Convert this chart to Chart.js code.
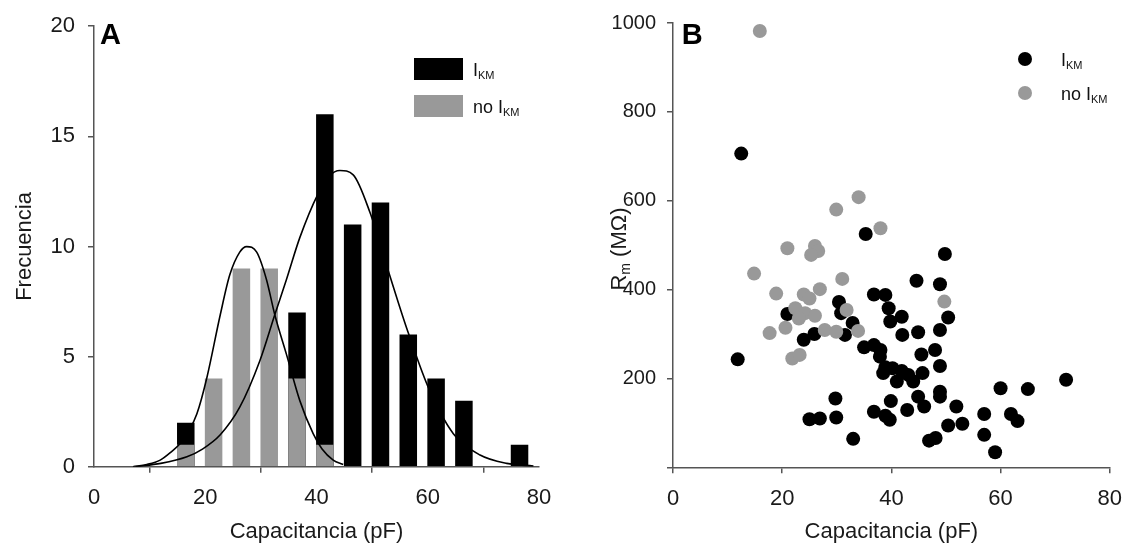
<!DOCTYPE html>
<html lang="es">
<head>
<meta charset="UTF-8">
<title>Capacitancia, frecuencia y Rm</title>
<script src="https://cdn.jsdelivr.net/npm/chart.js"></script>
<style>
  html, body { margin: 0; padding: 0; background: #fff; }
  .wrap { position: relative; width: 1134px; height: 548px; }
  canvas { position: absolute; top: 0; }
  #histChart { left: 0; }
  #scatterChart { left: 567px; }
</style>
</head>
<body>
<div class="wrap">
  <canvas id="histChart" width="567" height="548"></canvas>
  <canvas id="scatterChart" width="567" height="548"></canvas>
</div>
<script>
// ---- Panel A: histogram of capacitance (bin centres in pF) ----
const binCenters = [16.5, 21.5, 26.5, 31.5, 36.5, 41.5, 46.5, 51.5, 56.5, 61.5, 66.5, 71.5, 76.5];
const countsKM   = [2, 0, 0, 0, 7, 16, 11, 12, 6, 4, 3, 0, 1];
const countsNoKM = [1, 4, 9, 9, 4, 1, 0, 0, 0, 0, 0, 0, 0];

// fitted distributions drawn over the histogram
const fitNoKMx = [7, 9.5, 11.9, 14, 15.5, 17, 18.5, 20.3, 22.7, 24.4, 26.2, 27.45, 29.25, 31.0, 32.5, 34.6, 37.0, 39.4, 41, 43.0, 44.8];
const fitNoKMy = [0, 0.1, 0.3, 0.7, 1.05, 1.6, 2.4, 4.05, 6.9, 8.7, 9.74, 9.99, 9.74, 8.5, 6.9, 5.1, 3.0, 1.5, 0.8, 0.3, 0.1];
const fitKMx = [7.5, 12, 16.7, 19.5, 22.7, 26.2, 29.8, 32.5, 34.6, 37.0, 40.3, 42.3, 44.2, 46.6, 49.6, 52.9, 56.2, 60.1, 64.6, 69.4, 74.2, 79];
const fitKMy = [0, 0.15, 0.45, 0.8, 1.45, 2.7, 4.8, 6.9, 8.5, 10.4, 12.4, 13.2, 13.45, 13.25, 11.55, 8.9, 6.3, 3.6, 1.5, 0.53, 0.15, 0.03];

// ---- Panel B: membrane resistance vs capacitance ----
const kmCap = [11.85, 44.6, 48.9, 36.8, 38.9, 30.4, 20.95, 30.8, 39.5, 41.9, 39.8, 32.9, 50.4, 25.9, 23.95, 31.5,
               42.0, 44.9, 48.9, 35.0, 36.8, 38.0, 37.9, 45.5, 48.0, 38.9, 40.2, 38.5, 41.9, 43.1, 41.0, 44.0,
               45.7, 48.9, 72.0, 60.0, 65.0, 48.9, 48.9, 29.75, 39.9, 44.9, 46.0, 51.9, 42.9, 36.8, 38.9, 39.7,
               57.0, 61.9, 63.1, 25.0, 26.9, 29.9, 50.4, 53.0, 57.0, 33.0, 46.9, 48.1, 59.0, 12.5, 35.3, 49.8];
const kmRm  = [243, 420, 412, 389, 388, 372, 345, 347, 358, 339, 328, 325, 337, 300, 287, 298,
               298, 304, 309, 270, 275, 264, 249, 254, 264, 225, 223, 212, 217, 208, 193, 193,
               212, 228, 197, 178, 176, 170, 159, 155, 149, 159, 137, 137, 129, 125, 116, 107,
               120, 120, 104, 108, 110, 112, 94, 98, 73, 64, 60, 66, 34, 706, 525, 480];
const noKmCap = [15.9, 34.0, 29.9, 38.0, 20.95, 26.0, 26.6, 25.3, 14.85, 31.0, 18.9, 23.95, 25.0, 26.9,
                 49.7, 22.4, 24.2, 26.0, 23.05, 31.8, 20.6, 17.7, 27.8, 29.9, 33.9, 21.85, 23.2];
const noKmRm  = [982, 608, 580, 538, 493, 498, 487, 478, 436, 424, 391, 389, 380, 401,
                 373, 358, 347, 341, 335, 354, 314, 302, 309, 305, 307, 245, 253];

const FONT = "'Liberation Sans', Arial, sans-serif";
const GREY = '#999999';
const AXIS = '#555555';

Chart.defaults.font.family = FONT;
Chart.defaults.font.size = 22;
Chart.defaults.color = '#1a1a1a';

const xy = (xs, ys) => xs.map((x, i) => ({ x: x, y: ys[i] }));

// draws a run of text pieces where some are subscripts; y is the baseline
function richText(ctx, parts, x, y, size) {
  let cx = x;
  parts.forEach(([t, sub]) => {
    const s = sub ? Math.round(size * 0.62) : size;
    ctx.font = s + 'px ' + FONT;
    ctx.fillText(t, cx, sub ? y + size * 0.2 : y);
    cx += ctx.measureText(t).width;
  });
  return cx - x;
}
function richWidth(ctx, parts, size) {
  let w = 0;
  parts.forEach(([t, sub]) => {
    ctx.font = (sub ? Math.round(size * 0.62) : size) + 'px ' + FONT;
    w += ctx.measureText(t).width;
  });
  return w;
}

const IKM = [['I', false], ['KM', true]];
const NO_IKM = [['no I', false], ['KM', true]];

// panel letter, legend with subscripts and optional rotated y title
const panelDeco = {
  id: 'panelDeco',
  afterDraw(chart, args, opts) {
    const ctx = chart.ctx;
    ctx.save();
    ctx.fillStyle = '#000';
    ctx.textBaseline = 'alphabetic';
    ctx.textAlign = 'left';
    ctx.font = 'bold 29px ' + FONT;
    ctx.fillText(opts.letter, opts.letterX, opts.letterY);

    opts.legend.forEach(item => {
      ctx.fillStyle = item.color;
      if (item.marker === 'rect') {
        ctx.fillRect(item.mx, item.my - 11, 49, 22);
      } else {
        ctx.beginPath();
        ctx.arc(item.mx, item.my, 7, 0, Math.PI * 2);
        ctx.fill();
      }
      ctx.fillStyle = '#111';
      richText(ctx, item.parts, item.tx, item.my + 6.5, 18);
    });

    if (opts.yTitle) {
      const t = opts.yTitle;
      ctx.translate(t.x, t.y);
      ctx.rotate(-Math.PI / 2);
      ctx.fillStyle = '#1a1a1a';
      const w = richWidth(ctx, t.parts, 22);
      richText(ctx, t.parts, -w / 2, 8, 22);
    }
    ctx.restore();
  }
};

function axisStyle(extra) {
  return Object.assign({
    grid: { drawOnChartArea: false, drawTicks: true, tickLength: 6, color: AXIS, lineWidth: 1.5 },
    border: { display: true, color: AXIS, width: 1.5 }
  }, extra);
}

// Panel A
new Chart(document.getElementById('histChart'), {
  type: 'bar',
  data: {
    datasets: [
      { type: 'line', data: xy(fitNoKMx, fitNoKMy), borderColor: '#000', borderWidth: 1.6,
        pointRadius: 0, cubicInterpolationMode: 'monotone', order: 0 },
      { type: 'line', data: xy(fitKMx, fitKMy), borderColor: '#000', borderWidth: 1.6,
        pointRadius: 0, cubicInterpolationMode: 'monotone', order: 0 },
      { label: 'no IKM', data: xy(binCenters, countsNoKM), backgroundColor: GREY,
        grouped: false, barPercentage: 0.63, categoryPercentage: 1, order: 1 },
      { label: 'IKM', data: xy(binCenters, countsKM), backgroundColor: '#000',
        grouped: false, barPercentage: 0.63, categoryPercentage: 1, order: 2 }
    ]
  },
  options: {
    responsive: false,
    animation: false,
    layout: { padding: { left: 0, right: 28, top: 21.4, bottom: 0 } },
    plugins: {
      legend: { display: false },
      tooltip: { enabled: false },
      panelDeco: {
        letter: 'A', letterX: 100, letterY: 43.5,
        legend: [
          { marker: 'rect', color: '#000', mx: 414, my: 69, tx: 473, parts: IKM },
          { marker: 'rect', color: GREY, mx: 414, my: 106, tx: 473, parts: NO_IKM }
        ]
      }
    },
    scales: {
      x: axisStyle({
        type: 'linear', min: 0, max: 80, offset: false,
        ticks: { stepSize: 20, padding: 12 },
        title: { display: true, text: 'Capacitancia (pF)', padding: { top: 3, bottom: 3 } },
        afterFit: s => { s.height = 81.3; }
      }),
      y: axisStyle({
        min: 0, max: 20,
        ticks: { stepSize: 5, padding: 13 },
        title: { display: true, text: 'Frecuencia', padding: { top: 12, bottom: 12 } },
        afterFit: s => { s.width = 94; }
      })
    }
  },
  plugins: [panelDeco]
});

// Panel B
new Chart(document.getElementById('scatterChart'), {
  type: 'scatter',
  data: {
    datasets: [
      { label: 'no IKM', data: xy(noKmCap, noKmRm), backgroundColor: GREY, pointRadius: 7,
        borderWidth: 0, order: 0 },
      { label: 'IKM', data: xy(kmCap, kmRm), backgroundColor: '#000', pointRadius: 7,
        borderWidth: 0, order: 1 }
    ]
  },
  options: {
    responsive: false,
    animation: false,
    layout: { padding: { left: 0, right: 15, top: 22.7, bottom: 0 } },
    plugins: {
      legend: { display: false },
      tooltip: { enabled: false },
      panelDeco: {
        letter: 'B', letterX: 114.7, letterY: 44,
        legend: [
          { marker: 'circle', color: '#000', mx: 458, my: 59, tx: 494, parts: IKM },
          { marker: 'circle', color: GREY, mx: 458, my: 93, tx: 494, parts: NO_IKM }
        ],
        yTitle: { x: 51, y: 249, parts: [['R', false], ['m', true], [' (M\u03A9)', false]] }
      }
    },
    scales: {
      x: axisStyle({
        type: 'linear', min: 0, max: 80,
        ticks: { stepSize: 20, padding: 12 },
        title: { display: true, text: 'Capacitancia (pF)', padding: { top: 3, bottom: 3 } },
        afterFit: s => { s.height = 80.7; }
      }),
      y: axisStyle({
        min: 0, max: 1000,
        ticks: { stepSize: 200, padding: 11, font: { size: 20 }, callback: v => (v === 0 ? '' : v) },
        afterFit: s => { s.width = 106; }
      })
    }
  },
  plugins: [panelDeco]
});
</script>
</body>
</html>
